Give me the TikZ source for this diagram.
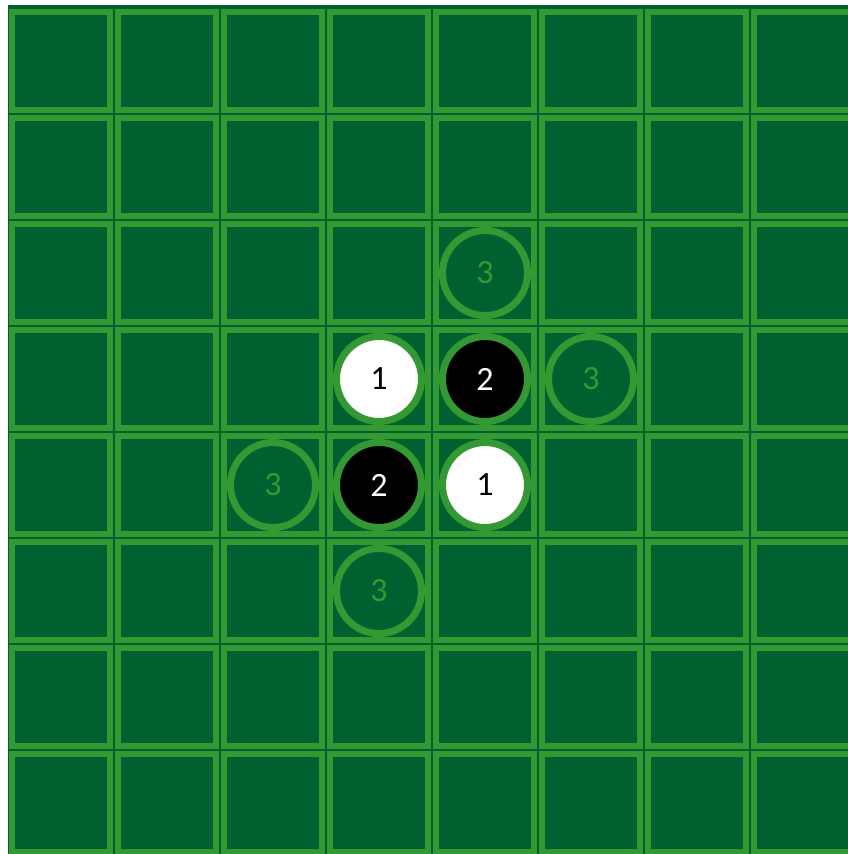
\documentclass[tikz,border=0pt]{standalone}
\usepackage{fontspec}
\setmainfont{Carlito}
\definecolor{boardgreen}{RGB}{0,96,48}
\definecolor{linegreen}{RGB}{51,153,51}
\begin{document}
\begin{tikzpicture}[x=1pt,y=-1pt,
  cellline/.style={draw=linegreen, line width=6pt},
  piece/.style={circle, minimum size=85pt, inner sep=0pt, draw=linegreen, line width=7pt, font=\fontsize{34}{34}\selectfont},
  whitepiece/.style={piece, fill=white, text=black},
  blackpiece/.style={piece, fill=black, text=white},
  hintpiece/.style={piece, text=linegreen}]
\useasboundingbox (0,0) rectangle (848,854);
\clip (0,0) rectangle (848,854);
\fill[white] (0,0) rectangle (848,854);
\fill[boardgreen] (8,5) rectangle (848,854);
\foreach \i in {0,...,7}
  \foreach \j in {0,...,7}
    \draw[cellline] ({8+106*\i+4},{8+106*\j+4}) rectangle ({8+106*\i+102},{8+106*\j+102});
% pieces: centre x = 61+106c, y = 61+106r
\node[hintpiece]  (h1) at (485,273) {3};
\node[whitepiece] (w1) at (379,379) {1};
\node[blackpiece] (b1) at (485,379) {2};
\node[hintpiece]  (h2) at (591,379) {3};
\node[hintpiece]  (h3) at (273,485) {3};
\node[blackpiece] (b2) at (379,485) {2};
\node[whitepiece] (w2) at (485,485) {1};
\node[hintpiece]  (h4) at (379,591) {3};
\end{tikzpicture}
\end{document}
